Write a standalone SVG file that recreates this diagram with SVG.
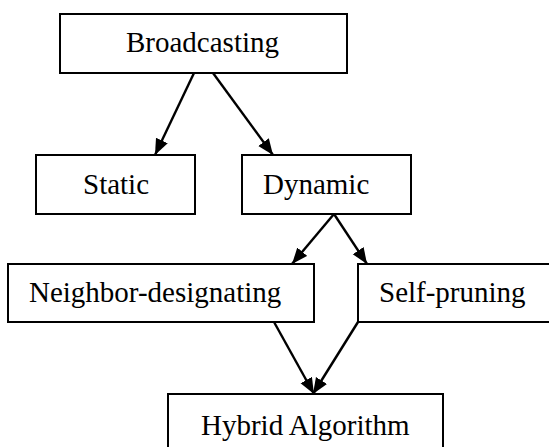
<svg xmlns="http://www.w3.org/2000/svg" width="549" height="447" viewBox="0 0 549 447">
<style>
.box{fill:#fff;stroke:#000;stroke-width:2}
.lbl{font-family:"Liberation Serif","Times New Roman","DejaVu Serif",serif;font-size:29px;fill:#000}
.edge{stroke:#000;stroke-width:2.4;fill:none;marker-end:url(#ah)}
</style>
<defs>
<marker id="ah" markerUnits="userSpaceOnUse" markerWidth="18" markerHeight="14" refX="16" refY="6.5" orient="auto">
<path d="M0,0 L16,6.5 L0,13 z" fill="#000"/>
</marker>
</defs>
<rect width="549" height="447" fill="#fff"/>
<g id="connectors">
<line class="edge" x1="194" y1="73" x2="155" y2="155"/>
<line class="edge" x1="213" y1="73" x2="273" y2="155"/>
<line class="edge" x1="334" y1="214" x2="292" y2="264"/>
<line class="edge" x1="334" y1="214" x2="367" y2="264"/>
<line class="edge" x1="274" y1="322" x2="314" y2="394"/>
<line class="edge" x1="358" y1="322" x2="313" y2="394"/>
</g>
<g id="broadcasting">
<rect class="box" x="60" y="14" width="287" height="59"/>
<text class="lbl" x="126" y="52">Broadcasting</text>
</g>
<g id="static">
<rect class="box" x="36" y="155" width="159" height="59"/>
<text class="lbl" x="83" y="194">Static</text>
</g>
<g id="dynamic">
<rect class="box" x="242" y="155" width="169" height="59"/>
<text class="lbl" x="263" y="194">Dynamic</text>
</g>
<g id="neighbor">
<rect class="box" x="8" y="264" width="306" height="58"/>
<text class="lbl" x="29" y="302">Neighbor-designating</text>
</g>
<g id="selfpruning">
<rect class="box" x="358" y="264" width="220" height="58"/>
<text class="lbl" x="379" y="302">Self-pruning</text>
</g>
<g id="hybrid">
<rect class="box" x="168" y="394" width="275" height="70"/>
<text class="lbl" x="201" y="435">Hybrid Algorithm</text>
</g>
</svg>
